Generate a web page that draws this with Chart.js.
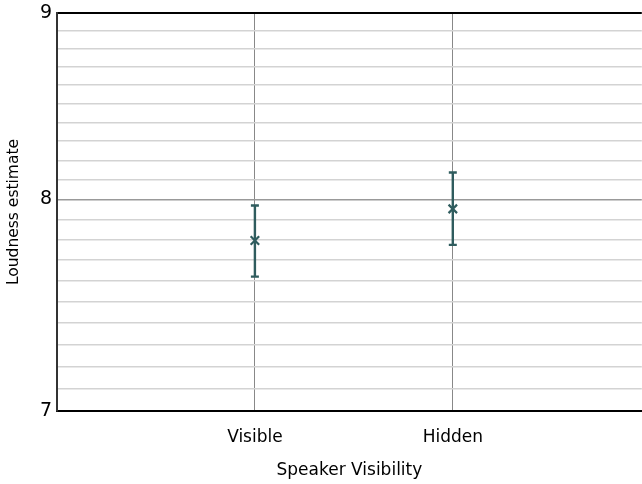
<!DOCTYPE html>
<html>
<head>
<meta charset="utf-8">
<script src="https://cdn.jsdelivr.net/npm/chart.js@4/dist/chart.umd.min.js"></script>
<style>
  html, body { margin: 0; padding: 0; background: #fff; overflow: hidden; }
  #wrap { width: 642px; height: 484px; position: relative; overflow: hidden; }
  #c { position: absolute; left: 0; top: 0; }
</style>
</head>
<body>
<div id="wrap"><canvas id="c" width="650" height="484"></canvas></div>
<script>
const categories = ['Visible', 'Hidden'];
const means = [7.796, 7.953];
const lowerCI = [7.620, 7.774];
const upperCI = [7.970, 8.138];
const yMajorTicks = [7, 8, 9];
const yMinorStep = 0.1;

const FONT = "'DejaVu Sans', Verdana, sans-serif";
const BAR_COLOR = '#2f5c5e';

const errorBars = {
  id: 'errorBars',
  afterDatasetsDraw(chart) {
    const {ctx, scales: {x, y}} = chart;
    ctx.save();
    ctx.strokeStyle = BAR_COLOR;
    ctx.lineWidth = 2.4;
    categories.forEach((c, i) => {
      const px = x.getPixelForValue(i + 1);
      const top = y.getPixelForValue(upperCI[i]);
      const bot = y.getPixelForValue(lowerCI[i]);
      ctx.beginPath();
      ctx.moveTo(px, top); ctx.lineTo(px, bot);
      ctx.moveTo(px - 4, top); ctx.lineTo(px + 4, top);
      ctx.moveTo(px - 4, bot); ctx.lineTo(px + 4, bot);
      ctx.stroke();
    });
    ctx.restore();
  }
};

const yTicks = [];
for (let v = yMajorTicks[0] * 10; v <= yMajorTicks[yMajorTicks.length - 1] * 10 + 0.001; v += yMinorStep * 10) {
  yTicks.push(Math.round(v) / 10);
}

new Chart(document.getElementById('c'), {
  type: 'scatter',
  data: {
    datasets: [{
      data: categories.map((c, i) => ({x: i + 1, y: means[i]})),
      pointStyle: 'crossRot',
      pointRadius: 6,
      pointBorderWidth: 2.2,
      borderColor: BAR_COLOR,
      backgroundColor: BAR_COLOR
    }]
  },
  options: {
    responsive: false,
    animation: false,
    devicePixelRatio: 1,
    layout: { padding: { top: 13, right: 0, bottom: 0, left: 0 } },
    plugins: { legend: { display: false }, tooltip: { enabled: false } },
    scales: {
      x: {
        type: 'linear',
        min: 0,
        max: 2.955,
        afterBuildTicks: (s) => { s.ticks = categories.map((c, i) => ({value: i + 1})); },
        afterFit: (s) => { s.height = 73; s.paddingLeft = 0; s.paddingRight = 0; },
        ticks: {
          autoSkip: false,
          maxRotation: 0,
          padding: 16,
          color: '#000',
          font: { family: FONT, size: 17 },
          callback: (v) => categories[Math.round(v) - 1] || ''
        },
        grid: { color: '#888', lineWidth: 1, drawTicks: false },
        border: { display: true, color: '#000', width: 2 },
        title: {
          display: true,
          text: 'Speaker Visibility',
          color: '#000',
          font: { family: FONT, size: 17 },
          padding: { top: 4, bottom: 3 }
        }
      },
      y: {
        type: 'logarithmic',
        min: 7,
        max: 9,
        afterBuildTicks: (s) => { s.ticks = yTicks.map(v => ({value: v, major: yMajorTicks.includes(v)})); },
        afterFit: (s) => { s.width = 57; s.paddingTop = 0; s.paddingBottom = 0; },
        ticks: {
          autoSkip: false,
          padding: 5,
          color: '#000',
          font: { family: FONT, size: 19 },
          callback: (v) => yMajorTicks.includes(Math.round(v * 10) / 10) && Math.abs(v - Math.round(v)) < 1e-6 ? String(Math.round(v)) : ''
        },
        grid: {
          drawTicks: false,
          color: (ctx) => {
            const v = Math.round(ctx.tick.value * 10) / 10;
            if (v === 7 || v === 9) return '#000';
            if (v === 8) return '#999';
            return '#d3d3d3';
          },
          lineWidth: (ctx) => {
            const v = Math.round(ctx.tick.value * 10) / 10;
            return (v === 9) ? 2 : 1.5;
          }
        },
        border: { display: true, color: '#333', width: 2 },
        title: {
          display: true,
          text: 'Loudness estimate',
          color: '#000',
          font: { family: FONT, size: 15.5 },
          padding: { top: 5, bottom: 4 }
        }
      }
    }
  },
  plugins: [errorBars]
});
</script>
</body>
</html>
